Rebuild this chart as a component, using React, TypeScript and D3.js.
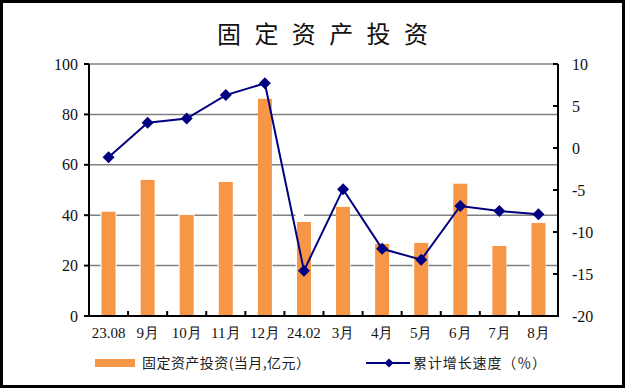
import React, { useEffect, useRef } from 'react';
import * as d3 from 'd3';

// categories (x axis)
const categories = ['23.08', '9月', '10月', '11月', '12月', '24.02', '3月', '4月', '5月', '6月', '7月', '8月'];
// 固定资产投资(当月,亿元)
const investment = [41.4, 54.0, 40.1, 53.2, 86.2, 37.3, 43.3, 28.6, 29.0, 52.5, 27.8, 36.9];
// 累计增长速度(%)
const growth = [-1.1, 3.0, 3.5, 6.3, 7.7, -14.6, -4.9, -12.0, -13.3, -6.9, -7.5, -7.9];
const leftTicks = [0, 20, 40, 60, 80, 100];
const rightTicks = [-20, -15, -10, -5, 0, 5, 10];

const W = 625;
const H = 388;
const BAR = '#F79646';
const LINE = '#000080';
const SERIF = '"Liberation Serif", "DejaVu Serif", serif';
const CJK = '"Noto Sans CJK SC", "Noto Sans", sans-serif';

const App = () => {
  const svgRef = useRef<SVGSVGElement>(null);

  useEffect(() => {
    document.body.style.margin = '0';
    if (!svgRef.current) return;
    const svg = d3.select(svgRef.current);
    svg.selectAll('*').remove();

    const plot = { left: 89, right: 558, top: 64, bottom: 316 };

    const x = d3.scaleBand<string>()
      .domain(categories)
      .range([plot.left, plot.right])
      .padding(0);
    const yL = d3.scaleLinear().domain([0, 100]).range([plot.bottom, plot.top]);
    const yR = d3.scaleLinear().domain([-20, 10]).range([plot.bottom, plot.top]);
    const barW = 14;
    const cx = (c: string) => x(c)! + x.bandwidth() / 2;

    // outer frame
    svg.append('rect')
      .attr('x', 1.5).attr('y', 1.5)
      .attr('width', W - 3).attr('height', H - 3)
      .attr('fill', 'white').attr('stroke', 'black').attr('stroke-width', 3);

    // title
    svg.append('text')
      .attr('x', 217).attr('y', 43)
      .attr('textLength', 211)
      .attr('lengthAdjust', 'spacing')
      .style('font-family', CJK)
      .style('font-size', '24px')
      .attr('fill', '#111')
      .text('固定资产投资');

    // gridlines
    const grid = svg.append('g');
    const split = cx('24.02');
    leftTicks.filter(t => t > 0).forEach(t => {
      const y = yL(t);
      if (t >= 60) {
        grid.append('line')
          .attr('x1', plot.left).attr('x2', plot.right).attr('y1', y).attr('y2', y)
          .attr('stroke', '#808080').attr('stroke-width', 1.5);
      } else {
        const dashEnd = t === 40 ? split : plot.right;
        grid.append('line')
          .attr('x1', plot.left).attr('x2', dashEnd).attr('y1', y).attr('y2', y)
          .attr('stroke', '#808080').attr('stroke-width', 1.5)
          .attr('stroke-dasharray', '23,16')
          .attr('stroke-dashoffset', -(x.bandwidth() / 2 + 8));
        if (t === 40) {
          grid.append('line')
            .attr('x1', split).attr('x2', plot.right).attr('y1', y).attr('y2', y)
            .attr('stroke', '#808080').attr('stroke-width', 1.5);
        }
      }
    });

    // bars
    svg.append('g')
      .selectAll('rect')
      .data(investment)
      .join('rect')
      .attr('x', (d, i) => cx(categories[i]) - barW / 2)
      .attr('y', d => yL(d))
      .attr('width', barW)
      .attr('height', d => yL(0) - yL(d))
      .attr('fill', BAR);

    // axes
    const axes = svg.append('g').attr('stroke', 'black').attr('stroke-width', 2);
    axes.append('line').attr('x1', plot.left).attr('x2', plot.left).attr('y1', plot.top).attr('y2', plot.bottom + 1);
    axes.append('line').attr('x1', plot.right).attr('x2', plot.right).attr('y1', plot.top).attr('y2', plot.bottom + 1);
    axes.append('line').attr('x1', plot.left).attr('x2', plot.right).attr('y1', plot.bottom).attr('y2', plot.bottom);
    leftTicks.forEach(t => {
      axes.append('line').attr('x1', plot.left - 5).attr('x2', plot.left).attr('y1', yL(t)).attr('y2', yL(t));
    });
    rightTicks.forEach(t => {
      axes.append('line').attr('x1', plot.right - 5).attr('x2', plot.right).attr('y1', yR(t)).attr('y2', yR(t));
    });
    categories.slice(1).forEach(c => {
      axes.append('line').attr('x1', x(c)!).attr('x2', x(c)!).attr('y1', plot.bottom - 5).attr('y2', plot.bottom);
    });

    // tick labels
    const labels = svg.append('g')
      .style('font-family', SERIF)
      .style('font-size', '16px')
      .attr('fill', '#111');
    leftTicks.forEach(t => {
      labels.append('text')
        .attr('x', 78).attr('y', yL(t)).attr('dy', '0.35em')
        .attr('text-anchor', 'end').text(t);
    });
    rightTicks.forEach(t => {
      labels.append('text')
        .attr('x', 572).attr('y', yR(t)).attr('dy', '0.35em')
        .attr('text-anchor', 'start').text(t);
    });
    categories.forEach(c => {
      labels.append('text')
        .attr('x', cx(c)).attr('y', 338)
        .attr('text-anchor', 'middle')
        .style('font-size', '15px')
        .text(c);
    });

    // growth line
    const line = d3.line<number>()
      .x((d, i) => cx(categories[i]))
      .y(d => yR(d));
    svg.append('path')
      .datum(growth)
      .attr('d', line)
      .attr('fill', 'none')
      .attr('stroke', LINE)
      .attr('stroke-width', 2);
    const diamond = d3.symbol().type(d3.symbolSquare).size(72);
    svg.append('g')
      .selectAll('path')
      .data(growth)
      .join('path')
      .attr('d', diamond)
      .attr('transform', (d, i) => `translate(${cx(categories[i])},${yR(d)}) rotate(45)`)
      .attr('fill', LINE);

    // legend
    const legend = svg.append('g')
      .style('font-family', CJK)
      .style('font-size', '14px')
      .attr('fill', '#222');
    legend.append('rect')
      .attr('x', 95).attr('y', 359).attr('width', 40).attr('height', 8)
      .attr('fill', BAR);
    legend.append('text')
      .attr('x', 142).attr('y', 368)
      .attr('textLength', 168).attr('lengthAdjust', 'spacing')
      .text('固定资产投资(当月,亿元）');
    legend.append('line')
      .attr('x1', 366).attr('x2', 410).attr('y1', 363).attr('y2', 363)
      .attr('stroke', LINE).attr('stroke-width', 2);
    legend.append('path')
      .attr('d', d3.symbol().type(d3.symbolSquare).size(42)())
      .attr('transform', 'translate(389,363) rotate(45)')
      .attr('fill', LINE);
    legend.append('text')
      .attr('x', 413).attr('y', 368)
      .attr('textLength', 133).attr('lengthAdjust', 'spacing')
      .text('累计增长速度（％）');
  }, []);

  return (
    <svg
      ref={svgRef}
      width={W}
      height={H}
      style={{ position: 'absolute', left: 0, top: 0, display: 'block' }}
    />
  );
};

export default App;
